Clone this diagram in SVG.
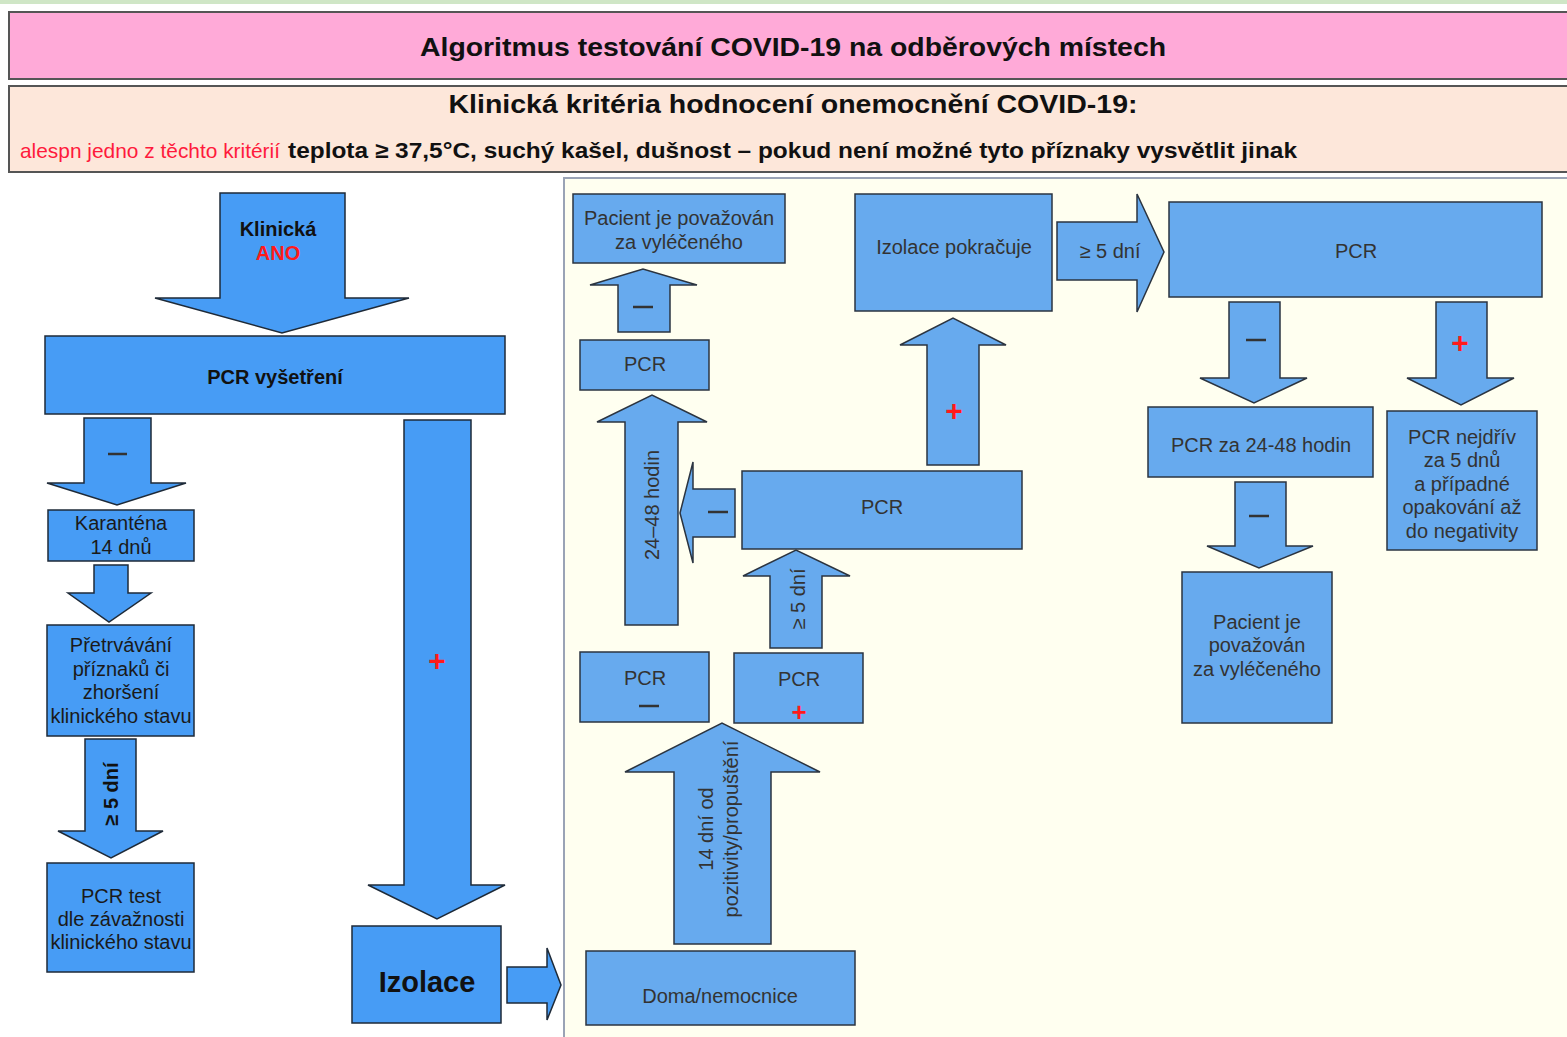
<svg xmlns="http://www.w3.org/2000/svg" width="1567" height="1037" viewBox="0 0 1567 1037">
<style>
.bgL{fill:#479cf5;stroke:#1e2a38;stroke-width:1.5}
.bgR{fill:#67aaee;stroke:#2b3440;stroke-width:1.5}
.t{font-family:"Liberation Sans",Arial,sans-serif;font-size:20px;fill:#1a1a1a;text-anchor:middle}
.tb{font-family:"Liberation Sans",Arial,sans-serif;font-size:20px;font-weight:bold;fill:#111;text-anchor:middle}
.tr{font-family:"Liberation Sans",Arial,sans-serif;font-size:20px;fill:#333;text-anchor:middle}
.plus{font-family:"Liberation Sans",Arial,sans-serif;font-size:30px;font-weight:bold;fill:#ff1a1a;text-anchor:middle}
.minus{stroke:#333;stroke-width:2.5}
</style>
<rect x="0" y="0" width="1567" height="1037" fill="#ffffff"/>
<rect x="0" y="0" width="1567" height="4" fill="#cfe6c6"/>

<g id="header-title">
<rect x="9" y="12" width="1570" height="67" fill="#ffaad8" stroke="#555" stroke-width="2"/>
<text x="793" y="56" font-family="'Liberation Sans',Arial,sans-serif" font-size="25" font-weight="bold" fill="#111" text-anchor="middle" textLength="746" lengthAdjust="spacingAndGlyphs">Algoritmus testování COVID-19 na odběrových místech</text>
</g>
<g id="header-criteria">
<rect x="9" y="86" width="1570" height="86" fill="#fde7da" stroke="#555" stroke-width="2"/>
<text x="793" y="113" font-family="'Liberation Sans',Arial,sans-serif" font-size="25" font-weight="bold" fill="#111" text-anchor="middle" textLength="689" lengthAdjust="spacingAndGlyphs">Klinická kritéria hodnocení onemocnění COVID-19:</text>
<text x="20" y="158" font-family="'Liberation Sans Narrow','Liberation Sans',Arial,sans-serif" font-size="21" fill="#ff1a3c" textLength="260" lengthAdjust="spacingAndGlyphs">alespn jedno z těchto kritérií</text>
<text x="288" y="158" font-family="'Liberation Sans',Arial,sans-serif" font-size="22" font-weight="bold" fill="#111" textLength="1009" lengthAdjust="spacingAndGlyphs">teplota ≥ 37,5°C, suchý kašel, dušnost – pokud není možné tyto příznaky vysvětlit jinak</text>
</g>

<g id="right-panel">
<rect x="564" y="178" width="1010" height="870" fill="#fffff0" stroke="#9aa3b5" stroke-width="2"/>
</g>

<g id="connectors">
<path class="bgL" d="M220 193 H345 V298 H409 L282 333 L155 298 H220 Z"/>
<path class="bgL" d="M84 418 H151 V483 H186 L117 505 L47 483 H84 Z"/>
<path class="bgL" d="M94 565 H128 V593 H151 L109 622 L68 593 H94 Z"/>
<path class="bgL" d="M85 739 H136 V831 H163 L111 858 L58 831 H85 Z"/>
<path class="bgL" d="M404 420 H471 V885 H505 L437 919 L368 885 H404 Z"/>
<path class="bgL" d="M507 967 H547 V948 L561 985 L547 1020 V1003 H507 Z"/>
<path class="bgR" d="M618 332 V285 H590 L643 269 L697 285 H670 V332 Z"/>
<path class="bgR" d="M625 625 V422 H597 L652 395 L707 422 H678 V625 Z"/>
<path class="bgR" d="M735 489 H693 V462 L680 513 L693 563 V537 H735 Z"/>
<path class="bgR" d="M770 648 V576 H743 L796 550 L850 576 H822 V648 Z"/>
<path class="bgR" d="M674 944 V772 H625 L722 723 L820 772 H771 V944 Z"/>
<path class="bgR" d="M927 465 V345 H900 L953 318 L1006 345 H979 V465 Z"/>
<path class="bgR" d="M1057 222 H1137 V194 L1164 252 L1137 312 V280 H1057 Z"/>
<path class="bgR" d="M1229 302 H1280 V378 H1307 L1254 403 L1200 378 H1229 Z"/>
<path class="bgR" d="M1436 302 H1487 V378 H1514 L1461 405 L1407 378 H1436 Z"/>
<path class="bgR" d="M1235 482 H1286 V546 H1313 L1259 568 L1207 546 H1235 Z"/>

<line class="minus" x1="108" y1="454" x2="127" y2="454"/>
<text class="tb" transform="translate(118 794) rotate(-90)">≥ 5 dní</text>
<text class="plus" x="437" y="671">+</text>
<line class="minus" x1="633" y1="307" x2="653" y2="307"/>
<text class="tr" transform="translate(659 505) rotate(-90)">24–48 hodin</text>
<line class="minus" x1="708" y1="512" x2="728" y2="512"/>
<text class="tr" transform="translate(805 599) rotate(-90)">≥ 5 dní</text>
<text class="tr" transform="translate(713 829) rotate(-90)">14 dní od</text>
<text class="tr" transform="translate(738 829) rotate(-90)">pozitivity/propuštění</text>
<text class="plus" x="954" y="421">+</text>
<text class="tr" x="1110" y="258">≥ 5 dní</text>
<line class="minus" x1="1246" y1="340" x2="1266" y2="340"/>
<text class="plus" x="1460" y="353">+</text>
<line class="minus" x1="1249" y1="516" x2="1269" y2="516"/>
</g>

<g id="n-klinicka">
<text class="tb" x="278" y="236">Klinická</text>
<text class="tb" x="278" y="260" style="fill:#ff1a1a">ANO</text>
</g>
<g id="n-pcr-vysetreni">
<rect class="bgL" x="45" y="336" width="460" height="78"/>
<text class="tb" x="275" y="384">PCR vyšetření</text>
</g>
<g id="n-karantena">
<rect class="bgL" x="48" y="510" width="146" height="51"/>
<text class="t" x="121" y="530">Karanténa</text>
<text class="t" x="121" y="554">14 dnů</text>
</g>
<g id="n-pretrvavani">
<rect class="bgL" x="47" y="625" width="147" height="111"/>
<text class="t" x="121" y="652">Přetrvávání</text>
<text class="t" x="121" y="676">příznaků či</text>
<text class="t" x="121" y="699">zhoršení</text>
<text class="t" x="121" y="723">klinického stavu</text>
</g>
<g id="n-pcr-test">
<rect class="bgL" x="47" y="863" width="147" height="109"/>
<text class="t" x="121" y="903">PCR test</text>
<text class="t" x="121" y="926">dle závažnosti</text>
<text class="t" x="121" y="949">klinického stavu</text>
</g>
<g id="n-izolace">
<rect class="bgL" x="352" y="926" width="149" height="97"/>
<text class="tb" x="427" y="992" style="font-size:29px">Izolace</text>
</g>

<g id="n-vyleceny-1">
<rect class="bgR" x="573" y="194" width="212" height="69"/>
<text class="tr" x="679" y="225">Pacient je považován</text>
<text class="tr" x="679" y="249">za vyléčeného</text>
</g>
<g id="n-pcr-a">
<rect class="bgR" x="580" y="340" width="129" height="50"/>
<text class="tr" x="645" y="371">PCR</text>
</g>
<g id="n-pcr-b">
<rect class="bgR" x="742" y="471" width="280" height="78"/>
<text class="tr" x="882" y="514">PCR</text>
</g>
<g id="n-pcr-neg">
<rect class="bgR" x="580" y="652" width="129" height="70"/>
<text class="tr" x="645" y="685">PCR</text>
<line class="minus" x1="639" y1="706" x2="659" y2="706"/>
</g>
<g id="n-pcr-pos">
<rect class="bgR" x="734" y="653" width="129" height="70"/>
<text class="tr" x="799" y="686">PCR</text>
<text class="plus" x="799" y="721" style="font-size:26px">+</text>
</g>
<g id="n-doma">
<rect class="bgR" x="586" y="951" width="269" height="74"/>
<text class="tr" x="720" y="1003">Doma/nemocnice</text>
</g>
<g id="n-izolace-pokracuje">
<rect class="bgR" x="855" y="194" width="197" height="117"/>
<text class="tr" x="954" y="254">Izolace pokračuje</text>
</g>
<g id="n-pcr-c">
<rect class="bgR" x="1169" y="202" width="373" height="95"/>
<text class="tr" x="1356" y="258">PCR</text>
</g>
<g id="n-pcr-2448">
<rect class="bgR" x="1148" y="407" width="225" height="70"/>
<text class="tr" x="1261" y="452">PCR za 24-48 hodin</text>
</g>
<g id="n-pcr-nejdriv">
<rect class="bgR" x="1387" y="411" width="150" height="139"/>
<text class="tr" x="1462" y="444">PCR nejdřív</text>
<text class="tr" x="1462" y="467">za 5 dnů</text>
<text class="tr" x="1462" y="491">a případné</text>
<text class="tr" x="1462" y="514">opakování až</text>
<text class="tr" x="1462" y="538">do negativity</text>
</g>
<g id="n-vyleceny-2">
<rect class="bgR" x="1182" y="572" width="150" height="151"/>
<text class="tr" x="1257" y="629">Pacient je</text>
<text class="tr" x="1257" y="652">považován</text>
<text class="tr" x="1257" y="676">za vyléčeného</text>
</g>
</svg>
